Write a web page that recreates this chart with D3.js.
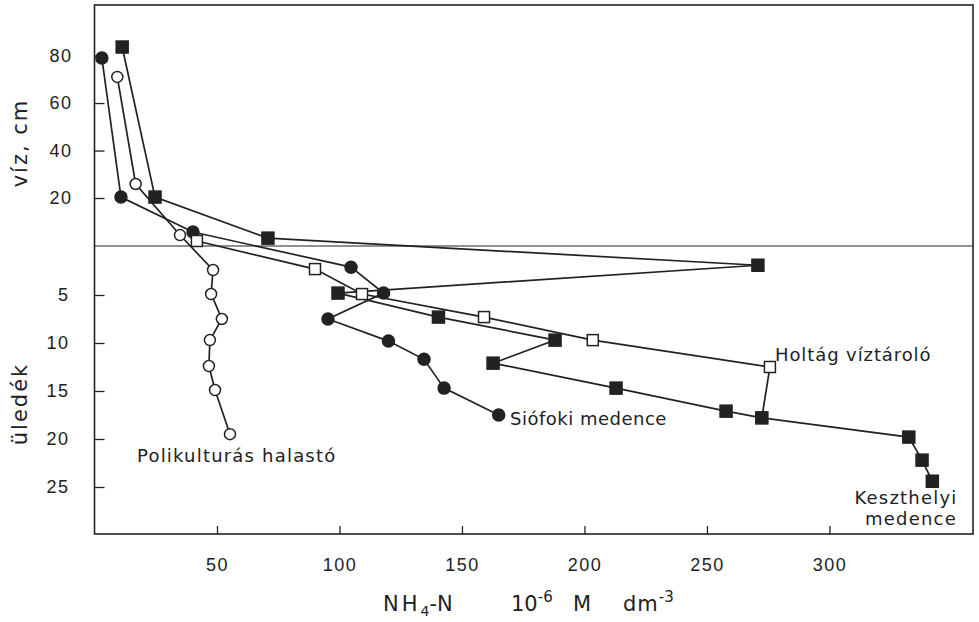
<!DOCTYPE html>
<html>
<head>
<meta charset="utf-8">
<script src="https://cdn.jsdelivr.net/npm/d3@7"></script>
<style>
  body { margin: 0; background: #fff; }
  svg { display: block; font-family: "DejaVu Sans", sans-serif; }
  text { fill: #222; }
</style>
</head>
<body>
<svg id="chart" width="979" height="622"></svg>
<script>
// NH4-N concentration (10^-6 M dm^-3) vs depth
// depth: positive = water (cm above bottom), negative = sediment (cm below)
var siofokiConc  = [3, 10.8, 40.2, 104.7, 118, 95.3, 120, 134.5, 142.7, 165];
var siofokiDepth = [79, 20.4, 5.7, -2.1, -4.8, -7.5, -9.8, -11.7, -14.7, -17.5];

var halastoConc  = [9.3, 16.8, 34.9, 48.4, 47.6, 52, 47.1, 46.7, 49.2, 55.3];
var halastoDepth = [71, 25.9, 4.4, -2.4, -4.9, -7.5, -9.7, -12.4, -14.9, -19.5];

var keszthelyConc  = [11.3, 24.7, 70.8, 270.8, 99.4, 140.4, 188, 162.7, 212.9, 257.8, 272.4, 332.4, 337.8, 342];
var keszthelyDepth = [83.6, 20.4, 3.1, -1.9, -4.8, -7.3, -9.7, -12.1, -14.7, -17.1, -17.8, -19.8, -22.2, -24.4];

var holtagConc  = [41.8, 90, 109.2, 159, 203.4, 275.7, 272.4];
var holtagDepth = [1.9, -2.3, -4.9, -7.3, -9.7, -12.5, -17.8];

var xTicks = [50, 100, 150, 200, 250, 300];
var waterTicks = [20, 40, 60, 80];
var sedTicks = [5, 10, 15, 20, 25];

var svg = d3.select("#chart");

var plotLeft = 94.5, plotRight = 973, plotTop = 5, plotBottom = 534, divider = 246;

var x = d3.scaleLinear().domain([0, 358.6]).range([plotLeft, plotRight]);
var yWater = d3.scaleLinear().domain([0, 101.3]).range([245.5, plotTop]);
var ySed = d3.scaleLinear().domain([0, 30]).range([247, plotBottom + 1]);

function yPos(d) { return d >= 0 ? yWater(d) : ySed(-d); }

var ink = "#222";

// frame
svg.append("rect")
  .attr("x", plotLeft).attr("y", plotTop)
  .attr("width", plotRight - plotLeft).attr("height", plotBottom - plotTop)
  .attr("fill", "none").attr("stroke", ink).attr("stroke-width", 1.6);

svg.append("line")
  .attr("x1", plotLeft).attr("x2", plotRight)
  .attr("y1", divider).attr("y2", divider)
  .attr("stroke", ink).attr("stroke-width", 1.2);

// axes
var xAxis = svg.append("g")
  .attr("transform", "translate(0," + plotBottom + ")")
  .call(d3.axisBottom(x).tickValues(xTicks).tickSizeInner(-8).tickSizeOuter(0).tickPadding(24));

var wAxis = svg.append("g")
  .attr("transform", "translate(" + plotLeft + ",0)")
  .call(d3.axisLeft(yWater).tickValues(waterTicks).tickSizeInner(-10).tickSizeOuter(0).tickPadding(22));

var sAxis = svg.append("g")
  .attr("transform", "translate(" + plotLeft + ",0)")
  .call(d3.axisLeft(ySed).tickValues(sedTicks).tickSizeInner(-10).tickSizeOuter(0).tickPadding(25));

[xAxis, wAxis, sAxis].forEach(function(g) {
  g.select(".domain").remove();
  g.selectAll(".tick line").attr("stroke", ink).attr("stroke-width", 1.3);
  g.selectAll(".tick text")
    .attr("fill", ink)
    .style("font-size", "18px")
    .style("letter-spacing", "1.5px");
});

// series
var series = [
  { conc: siofokiConc, depth: siofokiDepth, shape: "circle", filled: true },
  { conc: halastoConc, depth: halastoDepth, shape: "circle", filled: false },
  { conc: holtagConc, depth: holtagDepth, shape: "square", filled: false },
  { conc: keszthelyConc, depth: keszthelyDepth, shape: "square", filled: true }
];

var line = d3.line()
  .x(function(d) { return x(d[0]); })
  .y(function(d) { return yPos(d[1]); });

series.forEach(function(s) {
  s.points = d3.zip(s.conc, s.depth);
  svg.append("path")
    .datum(s.points)
    .attr("d", line)
    .attr("fill", "none")
    .attr("stroke", ink)
    .attr("stroke-width", 1.7);
});

series.forEach(function(s) {
  var g = svg.append("g");
  if (s.shape === "circle") {
    g.selectAll("circle")
      .data(s.points)
      .enter().append("circle")
      .attr("cx", function(d) { return x(d[0]); })
      .attr("cy", function(d) { return yPos(d[1]); })
      .attr("r", s.filled ? 6 : 5.5)
      .attr("fill", s.filled ? ink : "#fff")
      .attr("stroke", ink)
      .attr("stroke-width", 1.5);
  } else {
    var sz = s.filled ? 12 : 11;
    g.selectAll("rect")
      .data(s.points)
      .enter().append("rect")
      .attr("x", function(d) { return x(d[0]) - sz / 2; })
      .attr("y", function(d) { return yPos(d[1]) - sz / 2; })
      .attr("width", sz)
      .attr("height", sz)
      .attr("fill", s.filled ? ink : "#fff")
      .attr("stroke", ink)
      .attr("stroke-width", 1.5);
  }
});

// series labels
function label(txt, px, py, anchor, ls) {
  svg.append("text")
    .attr("x", px).attr("y", py)
    .attr("text-anchor", anchor || "start")
    .style("font-size", "18px")
    .style("letter-spacing", (ls == null ? 1.2 : ls) + "px")
    .text(txt);
}
label("Siófoki medence", 510, 425, "start", 0.5);
label("Polikulturás halastó", 137, 462);
label("Holtág víztároló", 775, 361, "start", 0.9);
label("Keszthelyi", 906, 504, "middle");
label("medence", 911, 525, "middle");

// y titles
svg.append("text")
  .attr("transform", "translate(27,143) rotate(-90)")
  .attr("text-anchor", "middle")
  .style("font-size", "21px")
  .style("letter-spacing", "2px")
  .text("víz,  cm");

svg.append("text")
  .attr("transform", "translate(27,404) rotate(-90)")
  .attr("text-anchor", "middle")
  .style("font-size", "21px")
  .style("letter-spacing", "2px")
  .text("üledék");

// x title
var xt = svg.append("text").attr("y", 611).style("font-size", "21px");
xt.append("tspan").attr("x", 383).style("letter-spacing", "3px").text("NH");
xt.append("tspan").attr("dy", 5).style("font-size", "14px").text("4");
xt.append("tspan").attr("dy", -5).text("-N");
xt.append("tspan").attr("x", 511).text("10");
xt.append("tspan").attr("dy", -9).style("font-size", "15px").text("-6");
xt.append("tspan").attr("x", 573).attr("dy", 9).text("M");
xt.append("tspan").attr("x", 623).style("letter-spacing", "1px").text("dm");
xt.append("tspan").attr("dy", -9).style("font-size", "15px").text("-3");
</script>
</body>
</html>
